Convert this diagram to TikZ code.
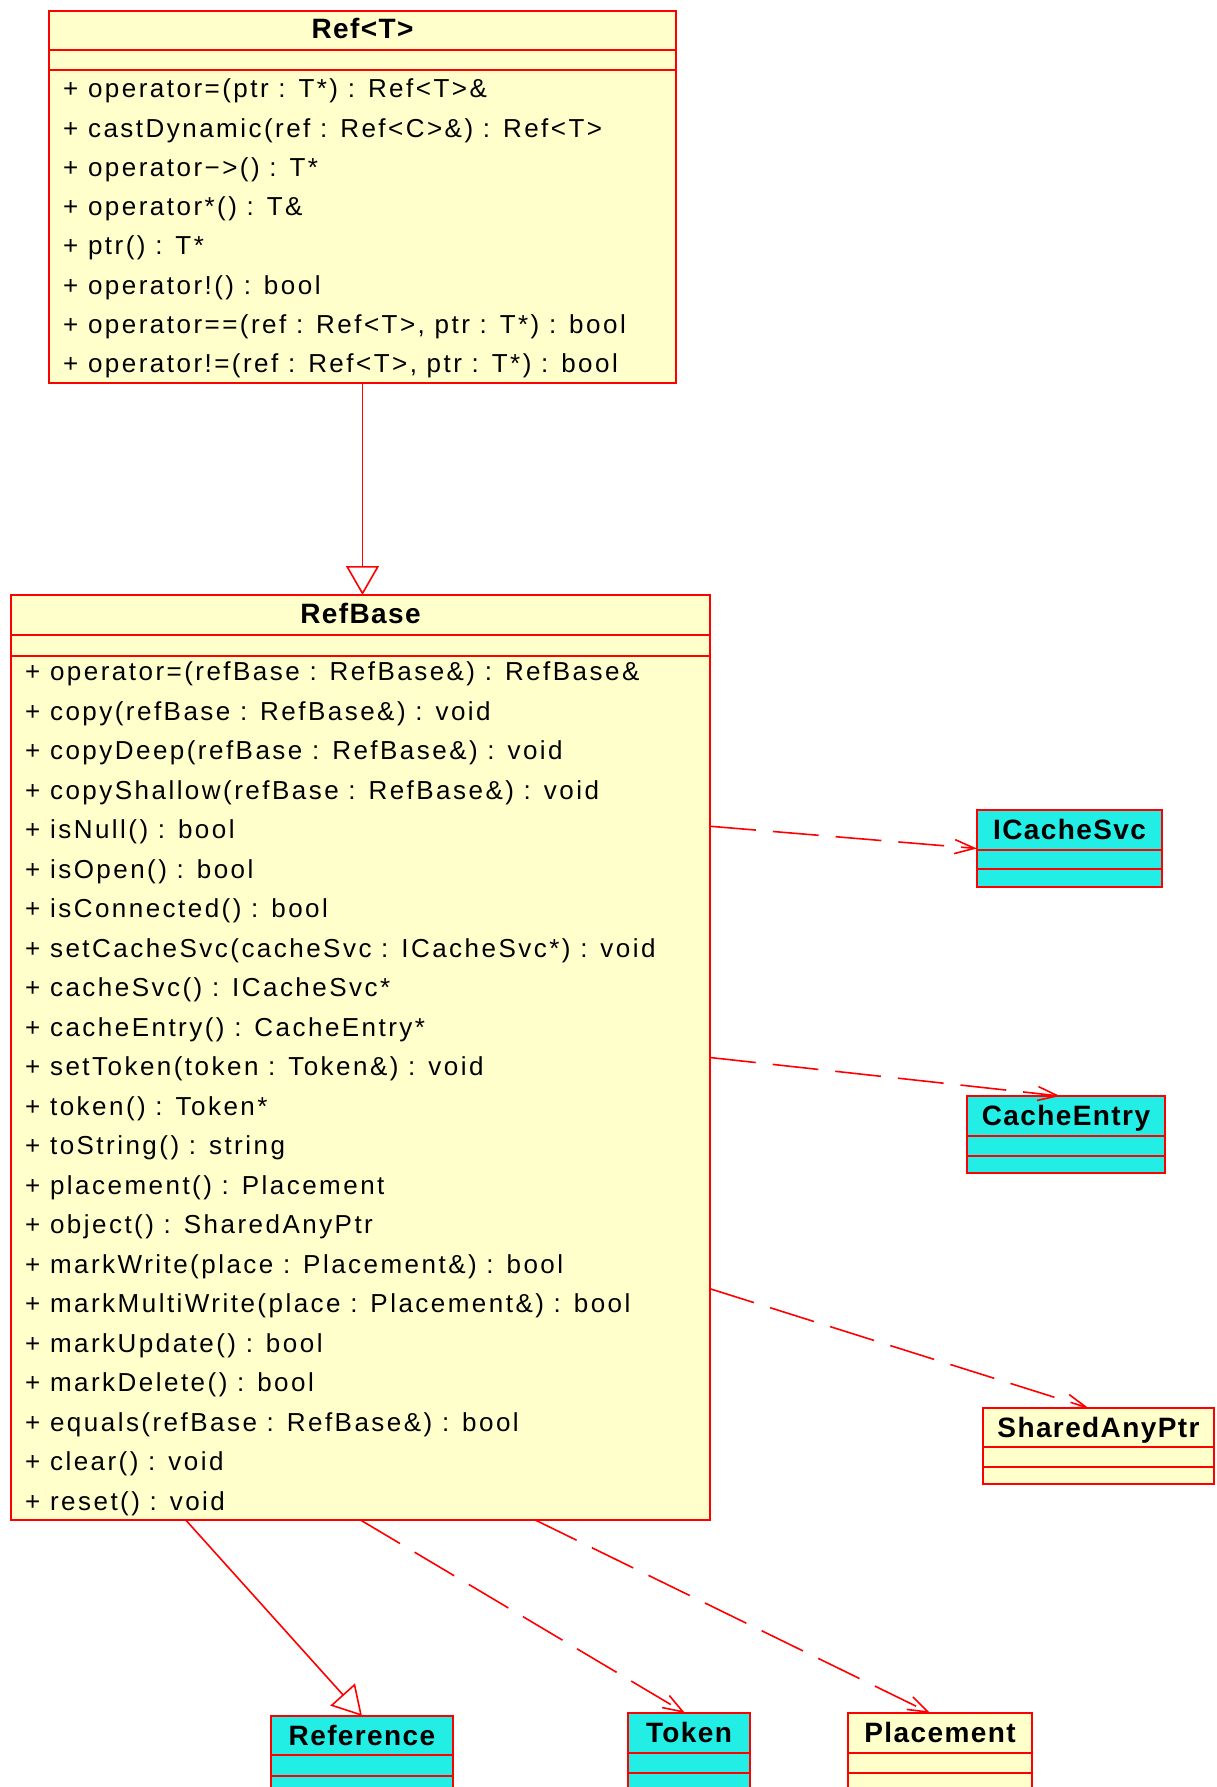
\documentclass[tikz,border=0pt]{standalone}
\usepackage{fontspec}
\setmainfont{Liberation Sans}
\newfontfamily\umlbody[LetterSpace=9.5]{Liberation Sans}
\newfontfamily\umltitle[LetterSpace=5]{Liberation Sans}
\usetikzlibrary{arrows.meta,calc}

\definecolor{classyellow}{RGB}{255,255,204}
\definecolor{classcyan}{RGB}{34,238,230}
\definecolor{umlred}{RGB}{255,0,0}

\tikzset{
  classbox/.style={draw=umlred, line width=2pt, rectangle, inner sep=0pt, outer sep=0pt, anchor=north west},
  yellowclass/.style={classbox, fill=classyellow},
  cyanclass/.style={classbox, fill=classcyan},
  sepline/.style={draw=umlred, line width=2pt},
  member/.style={anchor=base west, inner sep=0pt, font=\umlbody\fontsize{26}{30}\selectfont},
  classname/.style={anchor=base, inner sep=0pt, font=\umltitle\bfseries\fontsize{28}{32}\selectfont},
  depend/.style={draw=umlred, line width=1.6pt, dash pattern=on 46pt off 17pt,
    -{Straight Barb[length=20pt,width=14pt,line width=1.6pt]}},
  inherit/.style={draw=umlred, line width=1.6pt,
    -{Triangle[open,length=29pt,width=33pt,fill=white,line width=1.6pt]}},
}

\begin{document}
\begin{tikzpicture}[x=1pt, y=-1pt]
\useasboundingbox (0,0) rectangle (1216,1787);
\clip (0,0) rectangle (1216,1787);

% ---------- Ref<T> ----------
\node[yellowclass, minimum width=627pt, minimum height=372pt] (reft) at (49,11) {};
\draw[sepline] (reft.west |- 0,50) -- (reft.east |- 0,50);
\draw[sepline] (reft.west |- 0,70) -- (reft.east |- 0,70);
\node[classname] (reft-name) at (362.5,39) {Ref<T>};
\foreach \m [count=\i] in {
  {+ operator=(ptr : T*) : Ref<T>\&},
  {+ castDynamic(ref : Ref<C>\&) : Ref<T>},
  {+ operator−>() : T*},
  {+ operator*() : T\&},
  {+ ptr() : T*},
  {+ operator!() : bool},
  {+ operator==(ref : Ref<T>, ptr : T*) : bool},
  {+ operator!=(ref : Ref<T>, ptr : T*) : bool}}
  \node[member] (reft-m\i) at (63,{98+39.2*(\i-1)}) {\m};

% ---------- RefBase ----------
\node[yellowclass, minimum width=699pt, minimum height=925pt] (refbase) at (11,595) {};
\draw[sepline] (refbase.west |- 0,635) -- (refbase.east |- 0,635);
\draw[sepline] (refbase.west |- 0,656) -- (refbase.east |- 0,656);
\node[classname] (refbase-name) at (360.5,623) {RefBase};
\foreach \m [count=\i] in {
  {+ operator=(refBase : RefBase\&) : RefBase\&},
  {+ copy(refBase : RefBase\&) : void},
  {+ copyDeep(refBase : RefBase\&) : void},
  {+ copyShallow(refBase : RefBase\&) : void},
  {+ isNull() : bool},
  {+ isOpen() : bool},
  {+ isConnected() : bool},
  {+ setCacheSvc(cacheSvc : ICacheSvc*) : void},
  {+ cacheSvc() : ICacheSvc*},
  {+ cacheEntry() : CacheEntry*},
  {+ setToken(token : Token\&) : void},
  {+ token() : Token*},
  {+ toString() : string},
  {+ placement() : Placement},
  {+ object() : SharedAnyPtr},
  {+ markWrite(place : Placement\&) : bool},
  {+ markMultiWrite(place : Placement\&) : bool},
  {+ markUpdate() : bool},
  {+ markDelete() : bool},
  {+ equals(refBase : RefBase\&) : bool},
  {+ clear() : void},
  {+ reset() : void}}
  \node[member] (refbase-m\i) at (25,{680.5+39.5*(\i-1)}) {\m};

% ---------- small classes ----------
\node[cyanclass, minimum width=185pt, minimum height=77pt] (icache) at (977,810) {};
\draw[sepline] (icache.west |- 0,850) -- (icache.east |- 0,850);
\draw[sepline] (icache.west |- 0,869) -- (icache.east |- 0,869);
\node[classname] (icache-name) at (1069.5,839) {ICacheSvc};

\node[cyanclass, minimum width=198pt, minimum height=77pt] (centry) at (967,1096) {};
\draw[sepline] (centry.west |- 0,1136) -- (centry.east |- 0,1136);
\draw[sepline] (centry.west |- 0,1156) -- (centry.east |- 0,1156);
\node[classname] (centry-name) at (1066,1125) {CacheEntry};

\node[yellowclass, minimum width=231pt, minimum height=76pt] (sharedptr) at (983,1408) {};
\draw[sepline] (sharedptr.west |- 0,1447) -- (sharedptr.east |- 0,1447);
\draw[sepline] (sharedptr.west |- 0,1467) -- (sharedptr.east |- 0,1467);
\node[classname] (sharedptr-name) at (1098.5,1437) {SharedAnyPtr};

\node[cyanclass, minimum width=182pt, minimum height=80pt] (reference) at (271,1716) {};
\draw[sepline] (reference.west |- 0,1755) -- (reference.east |- 0,1755);
\draw[sepline] (reference.west |- 0,1776) -- (reference.east |- 0,1776);
\node[classname] (reference-name) at (362,1745) {Reference};

\node[cyanclass, minimum width=122pt, minimum height=80pt] (token) at (628,1713) {};
\draw[sepline] (token.west |- 0,1753) -- (token.east |- 0,1753);
\draw[sepline] (token.west |- 0,1773) -- (token.east |- 0,1773);
\node[classname] (token-name) at (689,1742) {Token};

\node[yellowclass, minimum width=184pt, minimum height=80pt] (placement) at (848,1713) {};
\draw[sepline] (placement.west |- 0,1753) -- (placement.east |- 0,1753);
\draw[sepline] (placement.west |- 0,1773) -- (placement.east |- 0,1773);
\node[classname] (placement-name) at (940,1742) {Placement};

% ---------- relations ----------
\draw[inherit] (reft.south) -- (reft.south |- refbase.north);
\draw[depend] ($(refbase.north east)!0.25!(refbase.south east)$) -- (icache.west);
\draw[depend] ($(refbase.north east)!0.5!(refbase.south east)$) -- ([xshift=-6pt]centry.north);
\draw[depend] ($(refbase.north east)!0.75!(refbase.south east)$) -- ([xshift=-10pt]sharedptr.north);
\draw[inherit] ($(refbase.south west)!0.25!(refbase.south east)$) -- (reference.north);
\draw[depend] (refbase.south) -- ([xshift=-4pt]token.north);
\draw[depend] ($(refbase.south west)!0.75!(refbase.south east)$) -- ([xshift=-10pt]placement.north);
\end{tikzpicture}
\end{document}
